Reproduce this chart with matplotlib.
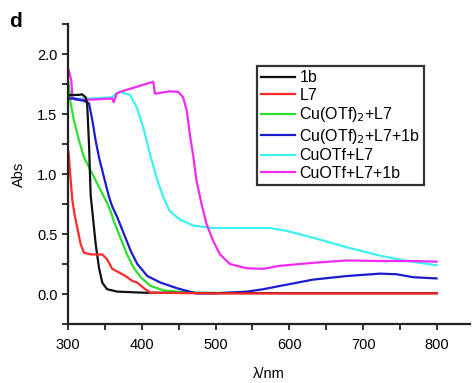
import matplotlib
matplotlib.use("Agg")
import matplotlib.pyplot as plt
from matplotlib.ticker import MultipleLocator

plt.rcParams['font.family'] = ['Liberation Sans', 'DejaVu Sans']

labels = ["1b", "L7", "Cu(OTf)$_2$+L7", "Cu(OTf)$_2$+L7+1b", "CuOTf+L7", "CuOTf+L7+1b"]
colors = ["#111111", "#ff2a2a", "#2ee02e", "#1c1ccc", "#3ff0f0", "#f02cf0"]

wl_1b = [300, 303.6, 315, 319, 324, 326, 328.5, 330.7, 333, 337.5, 342, 346.5, 353, 367, 403, 500, 600, 700, 800]
abs_1b = [1.65, 1.66, 1.66, 1.665, 1.64, 1.59, 1.25, 0.83, 0.69, 0.42, 0.22, 0.095, 0.04, 0.02, 0.011, 0.008, 0.007, 0.007, 0.007]

wl_L7 = [300, 301, 303, 306, 309, 312.6, 317, 321.7, 330.7, 346.5, 353, 360, 369, 378, 387, 394, 403, 412, 500, 600, 700, 800]
abs_L7 = [1.2, 1.17, 1.0, 0.78, 0.66, 0.555, 0.42, 0.345, 0.33, 0.33, 0.29, 0.21, 0.18, 0.15, 0.11, 0.095, 0.048, 0.011, 0.005, 0.005, 0.005, 0.005]

wl_cu2 = [300, 301.5, 303.6, 308, 315, 321.7, 330.7, 339.7, 348.8, 353, 357.8, 362, 371, 380, 389, 398.5, 412, 430, 448, 480, 520]
abs_cu2 = [1.78, 1.72, 1.59, 1.45, 1.28, 1.14, 1.03, 0.92, 0.81, 0.76, 0.69, 0.61, 0.47, 0.33, 0.22, 0.14, 0.067, 0.03, 0.02, 0.01, 0.008]

wl_cu2b = [300, 308, 321.7, 328.5, 333, 337.5, 342, 346.5, 351, 355.6, 360, 366.8, 375.9, 385, 394, 407.5, 425.6, 448, 474, 497, 542, 564.6, 587, 632, 677.6, 722.8, 745, 768, 799.6]
abs_cu2b = [1.63, 1.63, 1.61, 1.59, 1.45, 1.28, 1.14, 1.03, 0.92, 0.81, 0.73, 0.64, 0.50, 0.36, 0.25, 0.15, 0.095, 0.048, 0.005, 0.005, 0.02, 0.04, 0.067, 0.12, 0.15, 0.17, 0.165, 0.14, 0.13]

wl_cu1 = [300, 303, 306, 330, 360, 364.6, 370.5, 384, 393, 402, 411, 420, 429, 438, 452, 470, 497, 519.5, 542, 573.7, 596, 632, 677.6, 722.8, 759, 799.6]
abs_cu1 = [1.72, 1.66, 1.63, 1.63, 1.64, 1.67, 1.685, 1.66, 1.56, 1.39, 1.17, 0.97, 0.81, 0.69, 0.62, 0.57, 0.55, 0.55, 0.55, 0.55, 0.527, 0.47, 0.39, 0.32, 0.276, 0.24]

wl_cu1b = [300, 301, 304.5, 306, 310, 330, 360, 362, 366, 370.5, 415.6, 418, 438, 449.5, 456, 461, 465, 470, 474, 481, 488, 497, 506, 519.5, 542, 564.6, 587, 632, 677.6, 722.8, 768, 799.6]
abs_cu1b = [1.85, 1.87, 1.78, 1.64, 1.62, 1.62, 1.63, 1.60, 1.67, 1.685, 1.77, 1.67, 1.69, 1.685, 1.64, 1.53, 1.34, 1.14, 0.95, 0.75, 0.58, 0.44, 0.33, 0.25, 0.215, 0.21, 0.235, 0.26, 0.28, 0.275, 0.275, 0.27]

series = [(wl_1b, abs_1b), (wl_L7, abs_L7), (wl_cu2, abs_cu2),
          (wl_cu2b, abs_cu2b), (wl_cu1, abs_cu1), (wl_cu1b, abs_cu1b)]

fig = plt.figure(figsize=(4.72, 3.83), dpi=100)
ax = fig.add_axes([0.144, 0.154, 0.852, 0.783])

order = [4, 5, 2, 3, 0, 1]
lines = {}
for i in order:
    x, y = series[i]
    ln, = ax.plot(x, y, color=colors[i], lw=1.6, label=labels[i],
                  solid_joinstyle="round")
    lines[i] = ln

ax.set_xlim(300, 845)
ax.set_ylim(-0.25, 2.25)
ax.xaxis.set_major_locator(MultipleLocator(100))
ax.xaxis.set_minor_locator(MultipleLocator(50))
ax.yaxis.set_minor_locator(MultipleLocator(0.25))
ax.set_yticks([0.0, 0.5, 1.0, 1.5, 2.0])
ax.set_yticklabels(["0.0", "0.5", "1.0", "1.5", "2.0"])
ax.set_xticks([300, 400, 500, 600, 700, 800])

for s in ["top", "right"]:
    ax.spines[s].set_visible(False)
for s in ["left", "bottom"]:
    ax.spines[s].set_linewidth(1.6)
    ax.spines[s].set_color("#222222")

ax.tick_params(which="both", direction="out", length=4, width=1.3, colors="#222222",
               labelsize=10.5, labelcolor="black")
ax.tick_params(axis="x", pad=6)

ax.set_xlabel("λ/nm", fontsize=10.5, labelpad=11)
ax.set_ylabel("Abs", fontsize=10.5, labelpad=8)

leg = ax.legend([lines[i] for i in range(6)], labels, loc="upper left",
                bbox_to_anchor=(0.47, 0.86), fontsize=11.5, frameon=True,
                fancybox=False, edgecolor="black", handlelength=2.1,
                handletextpad=0.3, borderpad=0.25, labelspacing=0.16,
                borderaxespad=0)
leg.get_frame().set_linewidth(1.6)

fig.text(0.02, 0.93, "d", fontsize=15, fontweight="bold")

fig.savefig("out.png", dpi=100)
